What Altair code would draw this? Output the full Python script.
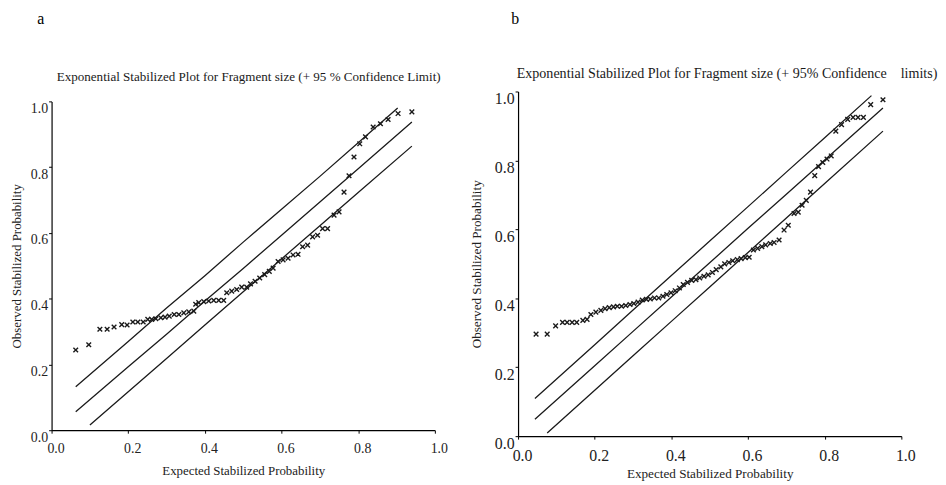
import altair as alt
import pandas as pd

FONT = "Liberation Serif"

# ---------------- Panel a data ----------------
a_title = "Exponential Stabilized Plot for Fragment size (+ 95 % Confidence Limit)"
a_exp = [0.063, 0.097, 0.126, 0.145, 0.163, 0.183, 0.197, 0.212, 0.225, 0.239,
         0.251, 0.261, 0.272, 0.285, 0.296, 0.307, 0.320, 0.332, 0.345, 0.358,
         0.371, 0.376, 0.384, 0.397, 0.410, 0.423, 0.436, 0.449, 0.457, 0.470,
         0.483, 0.496, 0.509, 0.519, 0.531, 0.543, 0.556, 0.568, 0.578, 0.591,
         0.604, 0.617, 0.630, 0.643, 0.655, 0.668, 0.681, 0.694, 0.707, 0.720,
         0.737, 0.750, 0.763, 0.776, 0.789, 0.804, 0.819, 0.839, 0.858, 0.878,
         0.904, 0.940]
a_obs = [0.244, 0.260, 0.307, 0.307, 0.314, 0.321, 0.320, 0.329, 0.329, 0.329,
         0.337, 0.337, 0.339, 0.342, 0.344, 0.347, 0.352, 0.352, 0.357, 0.360,
         0.362, 0.383, 0.388, 0.391, 0.393, 0.395, 0.395, 0.395, 0.418, 0.423,
         0.428, 0.435, 0.435, 0.445, 0.453, 0.463, 0.473, 0.483, 0.493, 0.513,
         0.518, 0.523, 0.533, 0.535, 0.558, 0.563, 0.588, 0.593, 0.613, 0.613,
         0.654, 0.664, 0.724, 0.774, 0.831, 0.871, 0.892, 0.922, 0.932, 0.945,
         0.963, 0.968]

a_upper_x = [0.063, 0.2, 0.3, 0.4, 0.5, 0.6, 0.7, 0.8, 0.903]
a_upper_y = [0.132, 0.270, 0.372, 0.470, 0.572, 0.672, 0.772, 0.874, 0.980]
a_mid_x = [0.063, 0.2, 0.3, 0.4, 0.5, 0.6, 0.7, 0.8, 0.940]
a_mid_y = [0.056, 0.193, 0.292, 0.393, 0.492, 0.593, 0.694, 0.795, 0.937]
a_low_x = [0.100, 0.2, 0.3, 0.4, 0.5, 0.6, 0.7, 0.8, 0.940]
a_low_y = [0.016, 0.117, 0.218, 0.320, 0.421, 0.521, 0.622, 0.723, 0.864]

# ---------------- Panel b data ----------------
b_title = "Exponential Stabilized Plot for Fragment size (+ 95% Confidence\u00a0\u00a0\u00a0 limits)"
b_exp = [0.047, 0.076, 0.098, 0.116, 0.128, 0.141, 0.153, 0.169, 0.180, 0.190,
         0.203, 0.216, 0.227, 0.238, 0.249, 0.259, 0.270, 0.281, 0.292, 0.302,
         0.313, 0.324, 0.335, 0.345, 0.356, 0.367, 0.378, 0.388, 0.399, 0.410,
         0.421, 0.431, 0.442, 0.453, 0.464, 0.474, 0.485, 0.496, 0.507, 0.517,
         0.529, 0.539, 0.550, 0.560, 0.572, 0.582, 0.593, 0.603, 0.614, 0.625,
         0.636, 0.646, 0.658, 0.668, 0.681, 0.694, 0.705, 0.720, 0.731, 0.741,
         0.752, 0.763, 0.774, 0.784, 0.795, 0.806, 0.817, 0.829, 0.844, 0.860,
         0.874, 0.887, 0.901, 0.920, 0.952]
b_obs = [0.296, 0.296, 0.320, 0.330, 0.330, 0.330, 0.330, 0.336, 0.339, 0.353,
         0.360, 0.365, 0.370, 0.373, 0.375, 0.377, 0.377, 0.379, 0.382, 0.385,
         0.389, 0.395, 0.397, 0.398, 0.401, 0.401, 0.406, 0.411, 0.416, 0.422,
         0.430, 0.440, 0.446, 0.452, 0.454, 0.459, 0.464, 0.468, 0.475, 0.483,
         0.491, 0.500, 0.504, 0.509, 0.512, 0.515, 0.518, 0.519, 0.540, 0.545,
         0.550, 0.555, 0.559, 0.562, 0.569, 0.598, 0.612, 0.646, 0.650, 0.670,
         0.684, 0.708, 0.756, 0.782, 0.794, 0.804, 0.813, 0.885, 0.904, 0.919,
         0.925, 0.925, 0.925, 0.962, 0.976]

b_upper_x = [0.044, 0.2, 0.3, 0.4, 0.5, 0.6, 0.7, 0.8, 0.922]
b_upper_y = [0.109, 0.265, 0.366, 0.466, 0.566, 0.666, 0.766, 0.866, 0.988]
b_mid_x = [0.044, 0.2, 0.3, 0.4, 0.5, 0.6, 0.7, 0.8, 0.952]
b_mid_y = [0.049, 0.204, 0.304, 0.404, 0.503, 0.603, 0.702, 0.801, 0.952]
b_low_x = [0.076, 0.2, 0.3, 0.4, 0.5, 0.6, 0.7, 0.8, 0.952]
b_low_y = [0.009, 0.133, 0.233, 0.333, 0.433, 0.533, 0.633, 0.733, 0.885]

TICKS = [0.0, 0.2, 0.4, 0.6, 0.8, 1.0]
CROSS = "M-1,-1L1,1M-1,1L1,-1"


def lines_df(ux, uy, mx, my, lx, ly):
    rows = []
    for name, xs, ys in (("upper", ux, uy), ("middle", mx, my), ("lower", lx, ly)):
        for xv, yv in zip(xs, ys):
            rows.append({"x": xv, "y": yv, "band": name})
    return pd.DataFrame(rows)


def panel(letter, title, exp, obs, lines, w, h, y_range, letter_xy, title_xy,
          title_size, label_size, axis_title_size, x_label_pad, x_title_pad, y_title_pad):
    xax = alt.Axis(values=TICKS, format=".1f", title="Expected Stabilized Probability",
                   grid=False, tickSize=3, labelOffset=4, labelPadding=x_label_pad,
                   titlePadding=x_title_pad, labelFlush=False, labelFontSize=label_size,
                   titleFontSize=axis_title_size)
    yax = alt.Axis(values=TICKS, format=".1f", title="Observed Stabilized Probability",
                   grid=False, tickSize=3, labelOffset=7, labelPadding=1,
                   titlePadding=y_title_pad, labelFlush=False, labelFontSize=label_size,
                   titleFontSize=axis_title_size)
    xs = alt.Scale(domain=[0, 1], nice=False)
    ys = alt.Scale(domain=[0, 1], nice=False, range=y_range)

    ln = alt.Chart(lines).mark_line(color="#1a1a1a", strokeWidth=1.3).encode(
        x=alt.X("x:Q", scale=xs, axis=xax),
        y=alt.Y("y:Q", scale=ys, axis=yax),
        detail="band:N",
    )
    pts = alt.Chart(pd.DataFrame({"x": exp, "y": obs})).mark_point(
        shape=CROSS, size=22, strokeWidth=1.4, color="#1a1a1a", filled=False, opacity=1
    ).encode(x=alt.X("x:Q", scale=xs), y=alt.Y("y:Q", scale=ys))
    let = alt.Chart(pd.DataFrame({"t": [letter]})).mark_text(
        font=FONT, fontSize=16, color="black", align="center", baseline="middle"
    ).encode(text="t:N", x=alt.value(letter_xy[0]), y=alt.value(letter_xy[1]))
    tit = alt.Chart(pd.DataFrame({"t": [title]})).mark_text(
        font=FONT, fontSize=title_size, color="#1a1a1a", align="center", baseline="middle"
    ).encode(text="t:N", x=alt.value(title_xy[0]), y=alt.value(title_xy[1]))
    return alt.layer(ln, pts, let, tit).properties(width=w, height=h)


# panel a: plot spans 10..342 px inside a 342 px tall view (its top sits 10 px below b's)
pa = panel("a", a_title, a_exp, a_obs,
           lines_df(a_upper_x, a_upper_y, a_mid_x, a_mid_y, a_low_x, a_low_y),
           387, 342, [342, 10], (-11, -73.5), (199, -15), 13.2, 14, 13, 9, 9, 7)
pb = panel("b", b_title, b_exp, b_obs,
           lines_df(b_upper_x, b_upper_y, b_mid_x, b_mid_y, b_low_x, b_low_y),
           387, 348, [348, 0], (-3, -73.5), (211, -18), 14.2, 16, 13.3, 9, 3, 11)

chart = alt.hconcat(pa, pb, spacing=22).properties(
    padding={"left": 2, "top": 0, "right": 0, "bottom": 0}
).configure(font=FONT).configure_view(stroke=None).configure_axis(
    labelFont=FONT, titleFont=FONT, titleFontWeight="normal",
    domainColor="black", tickColor="black", labelColor="#222222", titleColor="#222222",
    domainWidth=1.2
)

chart.save("out.html", embed_options={"renderer": "svg", "actions": False})
